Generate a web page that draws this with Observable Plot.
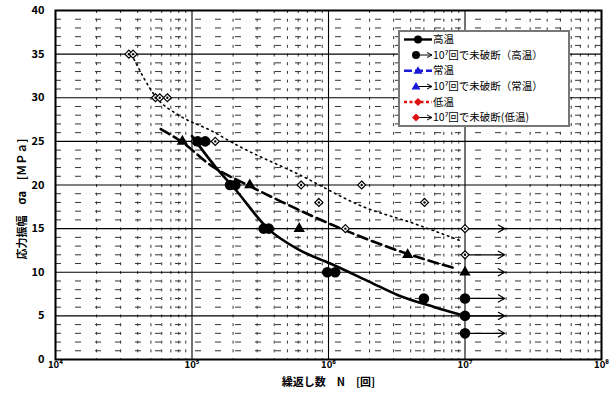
<!DOCTYPE html>
<html><head><meta charset="utf-8">
<script src="https://cdn.jsdelivr.net/npm/d3@7"></script>
<script src="https://cdn.jsdelivr.net/npm/@observablehq/plot@0.6"></script>
<style>
body{margin:0;background:#fff;}
#wrap{position:relative;width:613px;height:394px;font-family:"Noto Sans CJK JP","Noto Sans",sans-serif;}
#legend{position:absolute;left:398px;top:30px;}
</style></head>
<body><div id="wrap"></div>
<script>
// ---- data ----
const decades = [1e4, 1e5, 1e6, 1e7, 1e8];
const decadeLabels = ["10⁴", "10⁵", "10⁶", "10⁷", "10⁸"];
const majorY = [0, 5, 10, 15, 20, 25, 30, 35, 40];

// high temperature (failures)
const hiN = [1.1e5, 1.25e5, 1.9e5, 2.08e5, 3.35e5, 3.65e5, 0.98e6, 1.12e6, 5.0e6];
const hiS = [25, 25, 20, 20, 15, 15, 10, 10, 7];
// high temperature run-outs at 1e7
const hiRunS = [7, 5, 3];
// high temperature fitted curve
const hiCurveN = [1.0e5, 1.5e5, 2.05e5, 3.6e5, 6.2e5, 1.03e6, 2.0e6, 3.2e6, 6.0e6, 1.0e7];
const hiCurveS = [25.6, 22, 19.6, 15, 12.5, 11, 8.9, 7.4, 6.0, 5];

// normal temperature (failures)
const nrN = [8.5e4, 2.65e5, 6.1e5, 3.8e6];
const nrS = [25, 20, 15, 12];
const nrRunS = [10];
const nrCurveN = [5.9e4, 8.5e4, 1.36e5, 2.63e5, 4.5e5, 1.04e6, 3.8e6, 8.7e6];
const nrCurveS = [26.4, 24.9, 22.3, 19.9, 18.1, 15.5, 12.1, 10.4];

// low temperature (failures)
const loN = [3.45e4, 3.7e4, 5.4e4, 5.8e4, 6.6e4, 1.05e5, 1.48e5, 6.3e5, 1.75e6, 8.5e5, 5.05e6, 1.33e6];
const loS = [35, 35, 30, 30, 30, 25, 25, 20, 20, 18, 18, 15];
const loRunS = [15, 12];
const loCurveN = [3.6e4, 5.5e4, 8e4, 1.35e5, 2.3e5, 5.9e5, 1.8e6, 4.2e6, 9.3e6];
const loCurveS = [35, 30, 28, 26.3, 24.3, 21.3, 17.5, 15.6, 13.6];

const runoutN = 1e7;
const runoutArrowEnd = 1.95e7;

const yLabel = "応力振幅　σa　[ＭＰａ]";
const xLabel = "繰返し数　N　[回]";
const legendLabels = ["高温", "10⁷回で未破断（高温）", "常温", "10⁷回で未破断（常温）", "低温", "10⁷回で未破断(低温)"];

// ---- derived ----
const minorY = d3.range(0, 41).filter(v => v % 5 !== 0);
const minorX = [];
for (let e = 4; e < 8; e++) for (let m = 2; m <= 9; m++) minorX.push(m * 10 ** e);
const toPts = (N, S) => N.map((n, i) => ({n, s: S[i]}));
const runPts = S => S.map(s => ({n: runoutN, s}));

const font = '"Noto Sans CJK JP","Noto Sans",sans-serif';

const chart = Plot.plot({
  width: 613, height: 394,
  marginLeft: 55, marginRight: 12, marginTop: 10, marginBottom: 35,
  x: {type: "log", domain: [1e4, 1e8]},
  y: {domain: [0, 40]},
  style: {fontFamily: font, color: "#000", background: "#fff", overflow: "visible"},
  marks: [
    Plot.ruleY(minorY, {stroke: "#333", strokeWidth: 1, strokeDasharray: "6,14"}),
    Plot.ruleX(minorX, {stroke: "#333", strokeWidth: 1, strokeDasharray: "3,5.7"}),
    Plot.ruleY(majorY, {stroke: "#000", strokeWidth: 1.1}),
    Plot.ruleX(decades, {stroke: "#000", strokeWidth: 1.1}),
    // fitted curves
    Plot.line(toPts(loCurveN, loCurveS), {x: "n", y: "s", stroke: "#000", strokeWidth: 1.6, strokeDasharray: "1.5,4", curve: "monotone-x"}),
    Plot.line(toPts(nrCurveN, nrCurveS), {x: "n", y: "s", stroke: "#000", strokeWidth: 2.6, strokeDasharray: "10,5", curve: "monotone-x"}),
    Plot.line(toPts(hiCurveN, hiCurveS), {x: "n", y: "s", stroke: "#000", strokeWidth: 2.6, curve: "monotone-x"}),
    // run-out arrows
    Plot.arrow([...hiRunS, ...nrRunS, ...loRunS], {x1: () => runoutN, x2: () => runoutArrowEnd, y1: d => d, y2: d => d, stroke: "#000", strokeWidth: 1.2, headLength: 9, insetStart: 4}),
    // markers
    Plot.dot(toPts(loN, loS), {x: "n", y: "s", symbol: "diamond2", r: 3.6, stroke: "#000", strokeWidth: 1.2, fill: "#fff"}),
    Plot.dot(toPts(loN, loS), {x: "n", y: "s", r: 1.2, fill: "#000"}),
    Plot.dot(runPts(loRunS), {x: "n", y: "s", symbol: "diamond2", r: 3.6, stroke: "#000", strokeWidth: 1.2, fill: "#fff"}),
    Plot.dot(runPts(loRunS), {x: "n", y: "s", r: 1.2, fill: "#000"}),
    Plot.dot(toPts(nrN, nrS), {x: "n", y: "s", symbol: "triangle", r: 4.2, fill: "#000"}),
    Plot.dot(runPts(nrRunS), {x: "n", y: "s", symbol: "triangle", r: 4.2, fill: "#000"}),
    Plot.dot(toPts(hiN, hiS), {x: "n", y: "s", r: 5.3, fill: "#000"}),
    Plot.dot(runPts(hiRunS), {x: "n", y: "s", r: 5.3, fill: "#000"}),
    Plot.frame({stroke: "#000", strokeWidth: 2}),
    Plot.axisX({ticks: decades, tickFormat: d => decadeLabels[decades.indexOf(d)], tickSize: 0, tickPadding: 2, fontSize: 9.5, fontWeight: "bold", label: null}),
    Plot.axisY({ticks: majorY, tickSize: 0, tickPadding: 11, fontSize: 11, fontWeight: "bold", label: null}),
    Plot.text([yLabel], {text: d => d, frameAnchor: "left", rotate: -90, dx: -33, dy: 14, fontSize: 11, fontWeight: "bold", textAnchor: "middle"}),
    Plot.text([xLabel], {text: d => d, frameAnchor: "bottom", dy: 26, fontSize: 11, fontWeight: "bold", textAnchor: "middle"})
  ]
});
const wrap = document.getElementById("wrap");
wrap.appendChild(chart);

// ---- legend (inside plot, top right) ----
const lw = 172, lh = 97;
const lg = d3.create("svg").attr("id", "legend").attr("width", lw).attr("height", lh);
lg.append("rect").attr("x", 1).attr("y", 1).attr("width", lw - 2).attr("height", lh - 2).attr("fill", "#fff").attr("stroke", "#777").attr("stroke-width", 2);
const rowY = [9.5, 25, 40.7, 56.5, 72, 87.5];
const cols = ["#000", "#000", "#1a1ad8", "#1a1ad8", "#e01010", "#e01010"];
const sym = (g, kind, x, y, c) => {
  if (kind === "circle") g.append("circle").attr("cx", x).attr("cy", y).attr("r", 4).attr("fill", c);
  if (kind === "triangle") g.append("path").attr("d", `M${x},${y-4.5}L${x+4.5},${y+3}L${x-4.5},${y+3}Z`).attr("fill", c);
  if (kind === "diamond") g.append("path").attr("d", `M${x},${y-4}L${x+4},${y}L${x},${y+4}L${x-4},${y}Z`).attr("fill", c);
};
const kinds = ["circle", "circle", "triangle", "triangle", "diamond", "diamond"];
rowY.forEach((y, i) => {
  const c = cols[i];
  if (i % 2 === 0) {
    const dash = i === 0 ? null : (i === 2 ? "8,3" : "3,2.5");
    lg.append("line").attr("x1", 6).attr("x2", 34).attr("y1", y).attr("y2", y).attr("stroke", c).attr("stroke-width", 2.4).attr("stroke-dasharray", dash);
    sym(lg, kinds[i], 20, y, c);
  } else {
    lg.append("line").attr("x1", 20).attr("x2", 34).attr("y1", y).attr("y2", y).attr("stroke", "#000").attr("stroke-width", 1);
    lg.append("path").attr("d", `M29,${y-2.5}L34,${y}L29,${y+2.5}`).attr("fill", "none").attr("stroke", "#000").attr("stroke-width", 1);
    sym(lg, kinds[i], 18, y, c);
  }
  lg.append("text").attr("x", 35).attr("y", y).attr("dy", "0.35em").attr("font-size", 10.5).attr("font-family", font).attr("fill", "#000").text(legendLabels[i]);
});
wrap.appendChild(lg.node());
</script></body></html>
